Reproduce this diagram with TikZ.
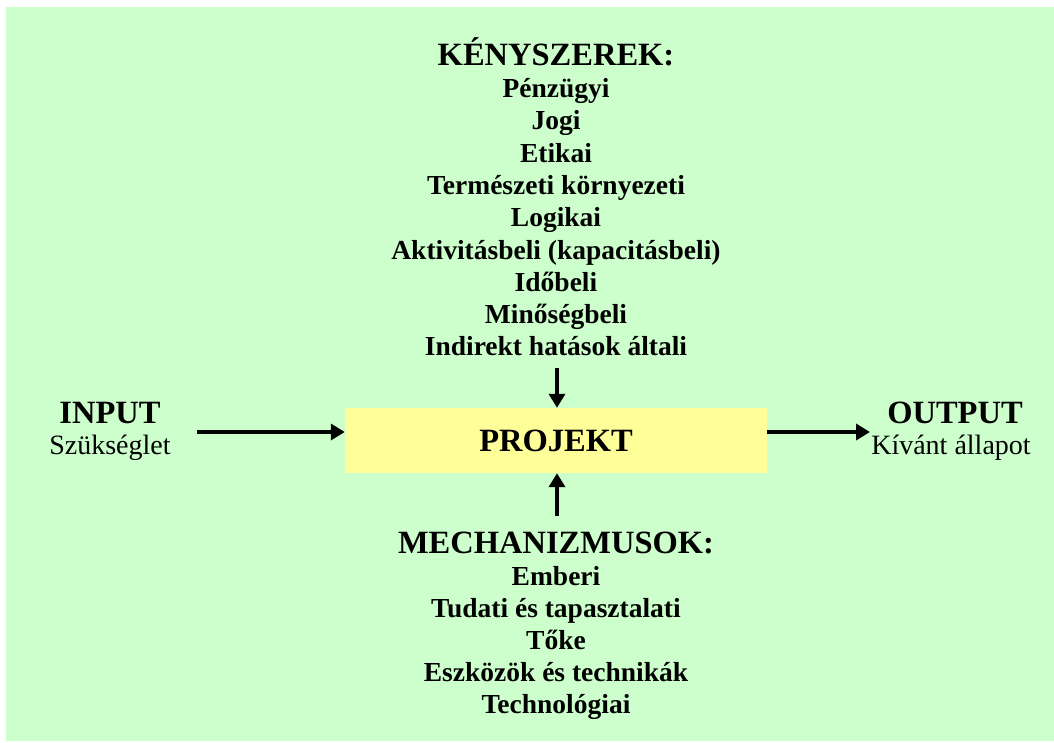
\documentclass[tikz,border=0pt]{standalone}
\usepackage{fontspec}
\setmainfont{Liberation Serif}
\usetikzlibrary{arrows.meta}
\definecolor{bggreen}{HTML}{CCFFCC}
\definecolor{boxyellow}{HTML}{FFFF99}
\begin{document}
\begin{tikzpicture}[x=1pt,y=-1pt,
  head/.style={font=\fontsize{32.5}{36}\selectfont\bfseries, inner sep=0pt, anchor=base},
  item/.style={font=\fontsize{27.5}{30}\selectfont\bfseries, inner sep=0pt, anchor=base},
  sub/.style={font=\fontsize{28}{30}\selectfont, inner sep=0pt, anchor=base},
  arr/.style={line width=4.5pt, -{Triangle[length=14pt,width=16pt]}}]
\useasboundingbox (0,0) rectangle (1054,742);
\fill[white] (0,0) rectangle (1054,742);
\fill[bggreen] (6,7) rectangle (1054,741);

% central box
\node[fill=boxyellow, minimum width=422pt, minimum height=65pt, inner sep=0pt,
      font=\fontsize{32.5}{36}\selectfont\bfseries] (proj) at (556,440.5) {PROJEKT};

% constraints (top)
\node[head] (kh) at (556,65) {KÉNYSZEREK:};
\foreach \t [count=\i] in {Pénzügyi, Jogi, Etikai, Természeti környezeti, Logikai,
    Aktivitásbeli (kapacitásbeli), Időbeli, Minőségbeli, Indirekt hatások általi}
  \node[item] (k\i) at (556,{97.5+32.3*(\i-1)}) {\t};

% mechanisms (bottom)
\node[head] (mh) at (556,553) {MECHANIZMUSOK:};
\foreach \t [count=\i] in {Emberi, Tudati és tapasztalati, Tőke, Eszközök és technikák, Technológiai}
  \node[item] (m\i) at (556,{585.5+32*(\i-1)}) {\t};

% input / output
\node[head] (in) at (110,423) {INPUT};
\node[sub] (ins) at (110,454) {Szükséglet};
\node[head] (out) at (955,423) {OUTPUT};
\node[sub] (outs) at (951,454) {Kívánt állapot};

% connectors
\coordinate (inS) at (197,432);
\coordinate (outE) at (870,432);
\coordinate (topS) at (557,368);
\coordinate (botS) at (557,516);
\draw[arr] (inS) -- (inS -| proj.west);
\draw[arr] (proj.east |- outE) -- (outE);
\draw[arr] (topS) -- (topS |- proj.north);
\draw[arr] (botS) -- (botS |- proj.south);
\end{tikzpicture}
\end{document}
